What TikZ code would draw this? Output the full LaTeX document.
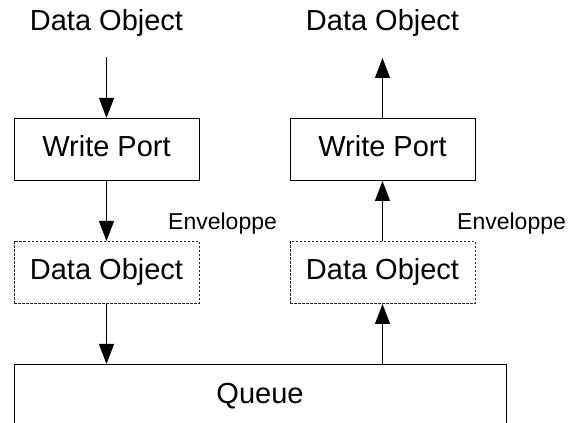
\documentclass[tikz,border=0pt]{standalone}
\usepackage{fontspec}
\setmainfont{Liberation Sans}
\usetikzlibrary{arrows.meta}
\begin{document}
\begin{tikzpicture}[x=1pt,y=1pt,
  big/.style={font=\fontsize{29}{34}\selectfont},
  small/.style={font=\fontsize{23}{27}\selectfont},
  box/.style={draw, line width=1pt, big, minimum width=185pt, minimum height=62pt, inner sep=0pt, text height=21pt, text depth=6pt},
  dbox/.style={box, line width=1pt, dash pattern=on 2.5pt off 1.5pt, draw=black!85},
  arr/.style={line width=1pt, -{Triangle[length=20pt,width=15pt]}}]
\useasboundingbox (0,0) rectangle (568,423);
\clip (0,0) rectangle (568,423);
\fill[white] (0,0) rectangle (568,423);
% left column
\node[big, anchor=base] (tl) at (106.5,392) {Data Object};
\coordinate (al) at (106.5,366);
\node[box] (lwp) at (106.5,273.5) {Write Port};
\node[dbox] (ldo) at (106.5,150.5) {Data Object};
\node[small, anchor=base west, inner sep=0pt] (el) at (168,193) {Enveloppe};
% right column
\node[big, anchor=base] (tr) at (382.5,392) {Data Object};
\coordinate (ar) at (382.5,365);
\node[box] (rwp) at (382.5,273.5) {Write Port};
\node[dbox] (rdo) at (382.5,150.5) {Data Object};
\node[small, anchor=base west, inner sep=0pt] (er) at (457,193) {Enveloppe};
% queue
\node[draw, line width=1pt, big, anchor=north, minimum width=492pt, inner xsep=0pt, inner ysep=18pt, text height=21pt, text depth=62pt] (q) at (260,59) {Queue};
% connectors
\draw[arr] (al) -- (lwp.north);
\draw[arr] (lwp.south) -- (ldo.north);
\draw[arr] (ldo.south) -- (ldo.south |- q.north);
\draw[arr] (rdo.south |- q.north) -- (rdo.south);
\draw[arr] (rdo.north) -- (rwp.south);
\draw[arr] (rwp.north) -- (ar);
\end{tikzpicture}
\end{document}
